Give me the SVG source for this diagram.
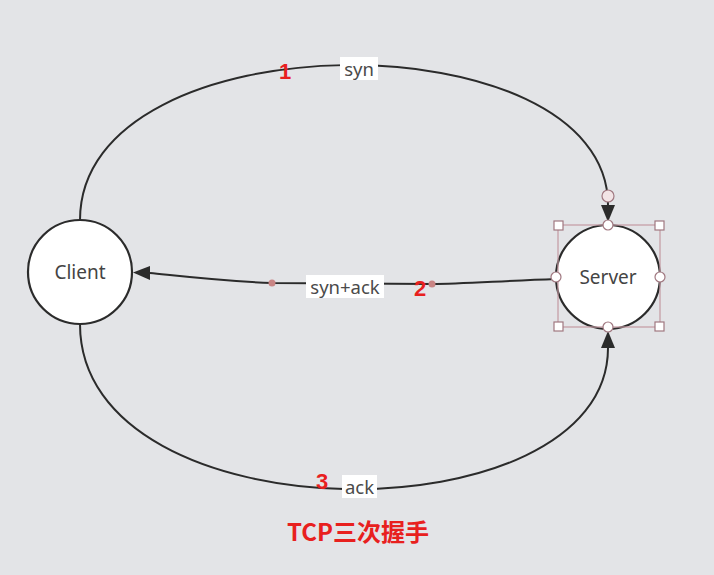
<svg xmlns="http://www.w3.org/2000/svg" width="714" height="575" viewBox="0 0 714 575">
<defs>
<style>
.bg{fill:#e3e4e7}
.node{fill:#fff;stroke:#2b2b2b;stroke-width:2.2}
.ntext{font-family:"Noto Sans","Open Sans",sans-serif;font-size:19px;fill:#444;text-anchor:middle;dominant-baseline:central}
.edge{fill:none;stroke:#2b2b2b;stroke-width:2}
.lblbox{fill:#fff}
.lbl{font-family:"Noto Sans","Open Sans",sans-serif;font-size:18.5px;fill:#4a4a4a;text-anchor:middle;dominant-baseline:central}
.num{font-family:"Liberation Sans","Noto Sans",sans-serif;font-size:22px;font-weight:bold;fill:#e8201e;text-anchor:middle;dominant-baseline:central}
.sel{fill:none;stroke:#c49aa2;stroke-width:1.2}
.hsq{fill:#fff;stroke:#a07880;stroke-width:1.2}
.hci{fill:#fff;stroke:#a07880;stroke-width:1.2}
.dot{fill:#c98585}
</style>
</defs>
<rect class="bg" x="0" y="0" width="714" height="575"/>
<g id="connectors">
<path class="edge" d="M80,220 C80,16 608,16 608,205" />
<path d="M601,205 L615,205 L608,222 z" fill="#2b2b2b"/>
<path class="edge" d="M80,324 C80,540 608,540 608,348" />
<path d="M601,348 L615,348 L608,331 z" fill="#2b2b2b"/>
<path class="edge" d="M556,279 C500,281 460,284 432,284 L272,283 C220,281 180,276 150,273" />
<path d="M150,266 L150,280 L133,272.5 z" fill="#2b2b2b"/>
<circle class="dot" cx="272" cy="283" r="3.5"/>
<circle class="dot" cx="432" cy="284" r="3.5"/>
<rect class="lblbox" x="340" y="57" width="38" height="23"/>
<text class="lbl" x="359" y="68">syn</text>
<rect class="lblbox" x="306" y="275" width="78" height="23"/>
<text class="lbl" x="345" y="286">syn+ack</text>
<rect class="lblbox" x="342" y="475" width="35" height="23"/>
<text class="lbl" x="359.5" y="486">ack</text>
<text class="num" x="285" y="71">1</text>
<text class="num" x="420" y="288">2</text>
<text class="num" x="322" y="481">3</text>
</g>
<g id="client">
<circle class="node" cx="80" cy="272" r="52"/>
<text class="ntext" x="80" y="272">Client</text>
</g>
<g id="server">
<circle class="node" cx="608" cy="277" r="52"/>
<text class="ntext" x="608" y="277">Server</text>
<rect class="sel" x="558" y="225" width="102" height="102"/>
<rect class="hsq" x="554" y="221" width="9" height="9"/>
<rect class="hsq" x="655" y="221" width="9" height="9"/>
<rect class="hsq" x="554" y="322" width="9" height="9"/>
<rect class="hsq" x="655" y="322" width="9" height="9"/>
<circle class="hci" cx="608" cy="225" r="5"/>
<circle class="hci" cx="556" cy="277" r="5"/>
<circle class="hci" cx="660" cy="277" r="5"/>
<circle class="hci" cx="608" cy="327" r="5"/>
<circle cx="608" cy="196" r="6" fill="#f2e4e6" stroke="#a07880" stroke-width="1.2"/>
</g>
<g id="title">
<text x="358" y="530" font-family="'Noto Sans CJK SC',sans-serif" font-size="24" font-weight="bold" fill="#e8201e" text-anchor="middle" dominant-baseline="central">TCP三次握手</text>
</g>
</svg>
